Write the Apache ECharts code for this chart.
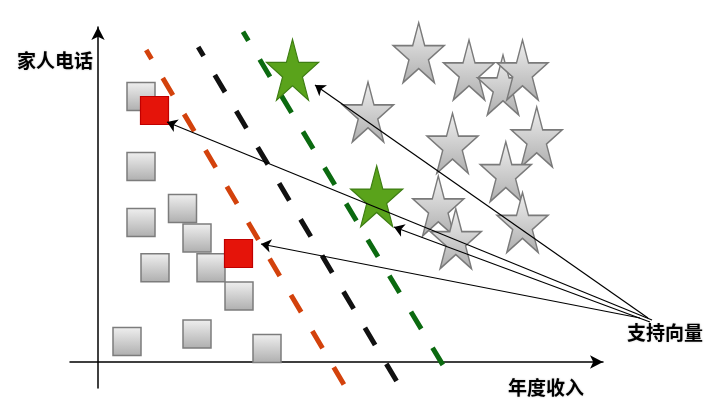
<!DOCTYPE html>
<html>
<head>
<meta charset="utf-8">
<script src="https://cdn.jsdelivr.net/npm/echarts@6/dist/echarts.min.js"></script>
<style>
  html, body { margin: 0; padding: 0; background: #fff; }
  #chart { width: 718px; height: 413px; }
</style>
</head>
<body>
<div id="chart"></div>
<script>
// 坐标单位：横轴“年度收入”，纵轴“家人电话”（任意单位）
const greySquares = [
  [4.3, 26.55], [4.3, 19.55], [8.45, 15.35], [4.3, 13.95], [9.9, 12.4],
  [5.7, 9.43], [11.3, 9.43], [14.1, 6.6], [2.9, 2.05], [9.9, 2.8], [16.9, 1.35]
];
const redSquares = [[5.65, 25.15], [14.05, 10.85]];

const greyStars = [
  [32.07, 30.93], [37.1, 29.2], [40.5, 27.7], [42.45, 29.2], [27.0, 25.0],
  [35.45, 21.87], [43.87, 22.5], [40.78, 19.03], [34.03, 15.6], [35.78, 12.33], [42.45, 13.95]
];
const greenStars = [[19.45, 29.23], [27.87, 16.57]];

// 三条分隔线（虚线）
const orangeLine = [[4.82, 31.2], [24.74, -2.5]];
const blackLine = [[10.02, 31.5], [30.03, -2.2]];
const greenLine = [[14.5, 33.03], [34.67, -0.6]];

// 从“支持向量”指向各支持向量的箭头
const supportArrows = [
  [[55.0, 4.4], [21.7, 27.7]],
  [[55.4, 4.2], [6.9, 24.0]],
  [[55.2, 4.0], [29.6, 13.5]],
  [[54.2, 4.4], [16.3, 11.8]]
];

const xLabel = '年度收入';
const yLabel = '家人电话';
const svLabel = '支持向量';

const starPath = 'path://M50,0 L61.2,34.5 L97.6,34.5 L68.2,55.9 L79.4,90.5 L50,69.1 L20.6,90.5 L31.8,55.9 L2.4,34.5 L38.8,34.5 Z';

const greyFill = {
  type: 'linear', x: 0, y: 0, x2: 0, y2: 1,
  colorStops: [{ offset: 0, color: '#f0f0f0' }, { offset: 1, color: '#aeaeae' }]
};

let myChart = echarts.init(document.getElementById('chart'));

function dashed(data, color) {
  return {
    type: 'line',
    data: data,
    symbol: 'none',
    clip: false,
    silent: true,
    z: 3,
    lineStyle: { color: color, width: 5, type: [20, 22], dashOffset: 9.5, cap: 'butt' }
  };
}

const labelFont = 'bold 19px "Noto Sans CJK SC", sans-serif';

let option = {
  animation: false,
  grid: { left: 70, right: 115, top: 27, bottom: 25 },
  xAxis: {
    type: 'value', min: -2.8, max: 50.5,
    splitLine: { show: false }, axisTick: { show: false }, axisLabel: { show: false },
    axisLine: { onZero: true, symbol: ['none', 'arrow'], symbolSize: [10, 13], lineStyle: { color: '#000', width: 1.5 } }
  },
  yAxis: {
    type: 'value', min: -2.6, max: 33.5,
    splitLine: { show: false }, axisTick: { show: false }, axisLabel: { show: false },
    axisLine: { onZero: true, symbol: ['none', 'arrow'], symbolSize: [10, 13], lineStyle: { color: '#000', width: 1.5 } }
  },
  series: [
    {
      type: 'scatter', data: greySquares, symbol: 'rect', symbolSize: 28, silent: true, z: 2,
      itemStyle: { color: greyFill, borderColor: '#7c7c7c', borderWidth: 1.5, opacity: 1 }
    },
    {
      type: 'scatter', data: redSquares, symbol: 'rect', symbolSize: 28, silent: true, z: 2,
      itemStyle: { color: '#e5140a', borderColor: '#c00000', borderWidth: 1.2, opacity: 1 }
    },
    {
      type: 'scatter', data: greyStars, symbol: starPath, symbolSize: [51, 60], silent: true, z: 2,
      itemStyle: { color: greyFill, borderColor: '#7a7a7a', borderWidth: 1.5, opacity: 1 }
    },
    dashed(orangeLine, '#d3420c'),
    dashed(blackLine, '#111111'),
    dashed(greenLine, '#0b6a10'),
    {
      type: 'scatter', data: greenStars, symbol: starPath, symbolSize: [52, 61], silent: true, z: 4,
      itemStyle: { color: '#5aa31b', borderColor: '#3d7d12', borderWidth: 1.2, opacity: 1 }
    },
    {
      type: 'lines', coordinateSystem: 'cartesian2d', silent: true, clip: false, z: 5,
      symbol: ['none', 'arrow'], symbolSize: 10,
      lineStyle: { color: '#000', width: 1.2, opacity: 1, curveness: 0 },
      data: supportArrows.map(a => ({ coords: a }))
    }
  ],
  graphic: [
    { type: 'text', left: 17, top: 51, silent: true,
      style: { text: yLabel, font: labelFont, fill: '#000', textShadowColor: 'rgba(0,0,0,0.25)', textShadowBlur: 2 } },
    { type: 'text', left: 508, top: 378, silent: true,
      style: { text: xLabel, font: labelFont, fill: '#000', textShadowColor: 'rgba(0,0,0,0.25)', textShadowBlur: 2 } },
    { type: 'text', left: 627, top: 323, silent: true,
      style: { text: svLabel, font: labelFont, fill: '#000', textShadowColor: 'rgba(0,0,0,0.25)', textShadowBlur: 2 } }
  ]
};

myChart.setOption(option);

window.addEventListener('resize', function() {
  myChart.resize();
});
</script>
</body>
</html>
